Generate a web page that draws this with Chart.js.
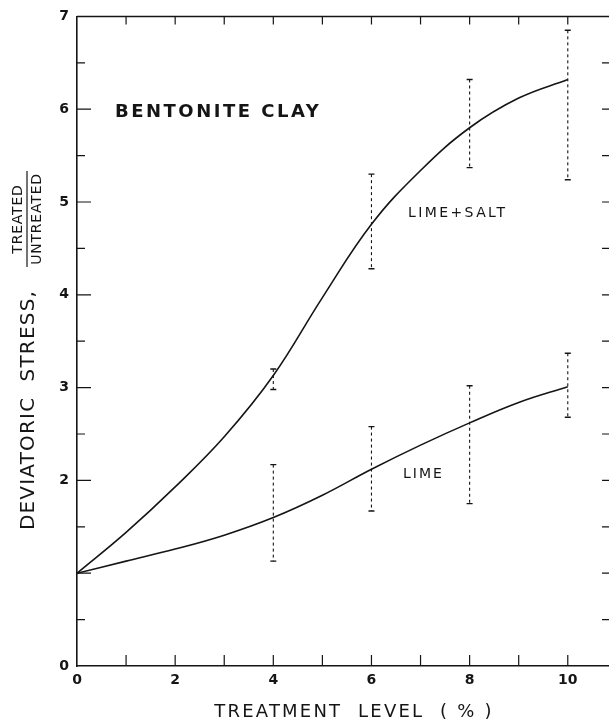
<!DOCTYPE html>
<html>
<head>
<meta charset="utf-8">
<script src="https://cdn.jsdelivr.net/npm/chart.js@4.4.1/dist/chart.umd.min.js"></script>
<style>
  html, body { margin: 0; padding: 0; background: #fff; }
  canvas { display: block; }
</style>
</head>
<body>
<canvas id="chart" width="609" height="723"></canvas>
<script>
// values
const treatmentLevels = [0, 1, 2, 3, 4, 5, 6, 7, 8, 9, 10];
const limeSalt = [1.0, 1.44, 1.93, 2.47, 3.13, 3.97, 4.76, 5.34, 5.8, 6.12, 6.32];
const lime = [1.0, 1.13, 1.26, 1.41, 1.6, 1.84, 2.12, 2.38, 2.62, 2.84, 3.01];

// scatter ranges shown as dashed bars
const barLevels = [4, 6, 8, 10];
const limeSaltLow = [2.98, 4.28, 5.37, 5.24];
const limeSaltHigh = [3.2, 5.3, 6.32, 6.85];
const limeLow = [1.13, 1.67, 1.75, 2.68];
const limeHigh = [2.17, 2.58, 3.02, 3.37];

const xTickLabels = [0, 2, 4, 6, 8, 10];
const yTickLabels = [0, 2, 3, 4, 5, 6, 7];

const ink = '#151515';

function points(xs, ys) {
    return xs.map((x, i) => ({ x: x, y: ys[i] }));
}

function spacedText(ctx, text, x, y, spacing) {
    ctx.letterSpacing = spacing + 'px';
    ctx.fillText(text, x, y);
    ctx.letterSpacing = '0px';
}

const decorations = {
    id: 'decorations',
    afterDatasetsDraw(chart) {
        const ctx = chart.ctx;
        const area = chart.chartArea;
        const xs = chart.scales.x;
        const ys = chart.scales.y;
        ctx.save();
        ctx.strokeStyle = ink;
        ctx.fillStyle = ink;

        // top frame line
        ctx.lineWidth = 1.5;
        ctx.beginPath();
        ctx.moveTo(area.left, area.top);
        ctx.lineTo(area.right, area.top);
        ctx.stroke();

        // inward tick marks
        ctx.lineWidth = 1.2;
        ctx.beginPath();
        for (let i = 1; i <= 10; i++) {
            const px = xs.getPixelForValue(i);
            ctx.moveTo(px, area.bottom);
            ctx.lineTo(px, area.bottom - 11);
            ctx.moveTo(px, area.top);
            ctx.lineTo(px, area.top + 8);
        }
        for (let v = 0.5; v < 7; v += 0.5) {
            const py = ys.getPixelForValue(v);
            const major = Number.isInteger(v);
            ctx.moveTo(area.left, py);
            ctx.lineTo(area.left + (major ? 14 : 8), py);
            ctx.moveTo(area.right, py);
            ctx.lineTo(area.right - 7, py);
        }
        ctx.stroke();

        // dashed scatter bars
        const drawBars = (low, high) => {
            barLevels.forEach((lv, i) => {
                const px = xs.getPixelForValue(lv);
                const y1 = ys.getPixelForValue(high[i]);
                const y2 = ys.getPixelForValue(low[i]);
                ctx.lineWidth = 1.1;
                ctx.setLineDash([3, 3]);
                ctx.beginPath();
                ctx.moveTo(px, y1);
                ctx.lineTo(px, y2);
                ctx.stroke();
                ctx.setLineDash([]);
                ctx.lineWidth = 1.4;
                ctx.beginPath();
                ctx.moveTo(px - 3, y1);
                ctx.lineTo(px + 3, y1);
                ctx.moveTo(px - 3, y2);
                ctx.lineTo(px + 3, y2);
                ctx.stroke();
            });
        };
        drawBars(limeSaltLow, limeSaltHigh);
        drawBars(limeLow, limeHigh);

        // labels inside the plot
        ctx.textBaseline = 'middle';
        ctx.textAlign = 'left';
        ctx.font = 'bold 18px "DejaVu Sans"';
        spacedText(ctx, 'BENTONITE CLAY', 115, 112, 2.5);
        ctx.font = '14px "DejaVu Sans"';
        spacedText(ctx, 'LIME+SALT', 408, 213, 2.4);
        spacedText(ctx, 'LIME', 403, 474, 2);

        // x axis title
        ctx.textAlign = 'center';
        ctx.font = '18px "DejaVu Sans"';
        spacedText(ctx, 'TREATMENT  LEVEL  ( % )', 354, 712, 2.2);

        // y axis title with the ratio
        ctx.save();
        ctx.translate(29, 410);
        ctx.rotate(-Math.PI / 2);
        ctx.font = '20px "DejaVu Sans"';
        spacedText(ctx, 'DEVIATORIC  STRESS,', 0, 0, 1.2);
        ctx.restore();

        ctx.save();
        ctx.translate(27, 219);
        ctx.rotate(-Math.PI / 2);
        ctx.font = '14px "DejaVu Sans"';
        spacedText(ctx, 'TREATED', 0, -9, 0.8);
        spacedText(ctx, 'UNTREATED', 0, 10, 0.8);
        ctx.lineWidth = 1.2;
        ctx.beginPath();
        ctx.moveTo(-48, 0);
        ctx.lineTo(48, 0);
        ctx.stroke();
        ctx.restore();

        ctx.restore();
    }
};

const lineStyle = {
    borderColor: ink,
    borderWidth: 1.6,
    pointRadius: 0,
    fill: false,
    tension: 0.4
};

new Chart(document.getElementById('chart'), {
    type: 'line',
    data: {
        datasets: [
            Object.assign({ label: 'LIME+SALT', data: points(treatmentLevels, limeSalt) }, lineStyle),
            Object.assign({ label: 'LIME', data: points(treatmentLevels, lime) }, lineStyle)
        ]
    },
    options: {
        responsive: false,
        animation: false,
        layout: { padding: { top: 15, right: 0, left: 0, bottom: 0 } },
        plugins: {
            legend: { display: false },
            tooltip: { enabled: false }
        },
        scales: {
            x: {
                type: 'linear',
                min: 0,
                max: 10.84,
                afterFit: function(scale) { scale.height = 57; },
                grid: { display: false, drawTicks: false },
                border: { color: ink, width: 1.6 },
                ticks: {
                    stepSize: 1,
                    includeBounds: false,
                    autoSkip: false,
                    maxRotation: 0,
                    padding: 6,
                    color: ink,
                    font: { family: 'DejaVu Sans', size: 14, weight: 'bold' },
                    callback: function(value) {
                        return xTickLabels.includes(value) ? String(value) : '';
                    }
                }
            },
            y: {
                min: 0,
                max: 7,
                afterFit: function(scale) { scale.width = 77; },
                grid: { display: false, drawTicks: false },
                border: { color: ink, width: 1.6 },
                ticks: {
                    stepSize: 1,
                    autoSkip: false,
                    padding: 8,
                    color: ink,
                    font: { family: 'DejaVu Sans', size: 14, weight: 'bold' },
                    callback: function(value) {
                        return yTickLabels.includes(value) ? String(value) : '';
                    }
                }
            }
        }
    },
    plugins: [decorations]
});
</script>
</body>
</html>
